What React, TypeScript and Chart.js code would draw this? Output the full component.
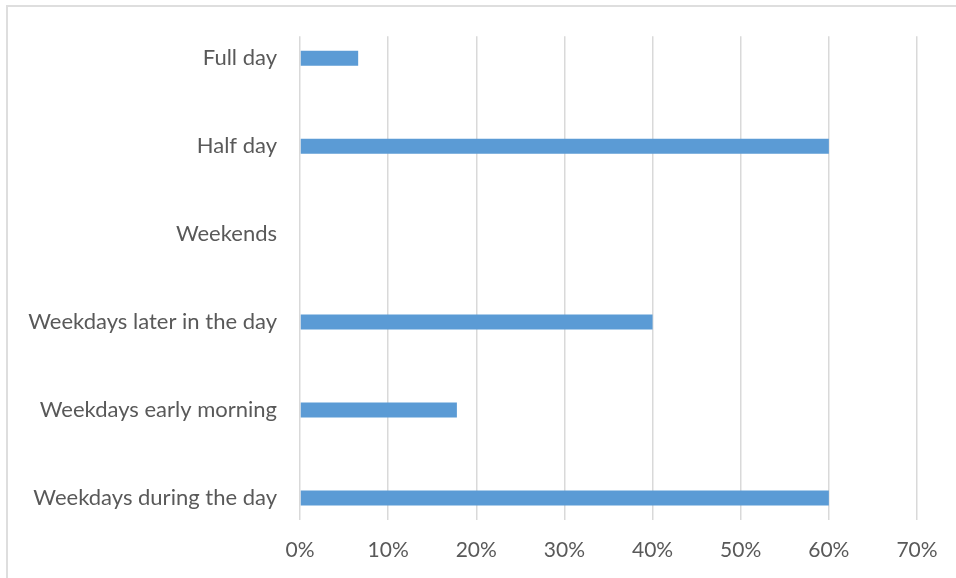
import React, { useEffect, useRef } from "react";
import { Chart, registerables } from "chart.js";

Chart.register(...registerables);

const categories: string[] = [
  "Full day",
  "Half day",
  "Weekends",
  "Weekdays later in the day",
  "Weekdays early morning",
  "Weekdays during the day",
];
const values: number[] = [6.6, 60, 0, 40, 17.8, 60];
const xTicks: number[] = [0, 10, 20, 30, 40, 50, 60, 70];

const FONT = "Lato";
const TEXT = "#595959";
const GRID = "#d9d9d9";

export default function App() {
  const ref = useRef<HTMLCanvasElement | null>(null);

  useEffect(() => {
    if (!ref.current) return;
    const chart = new Chart(ref.current, {
      type: "bar",
      data: {
        datasets: [
          {
            data: values.map((v, i) => ({ x: v, y: i })),
            backgroundColor: "#5b9bd5",
            borderWidth: 0,
            inflateAmount: 0,
            barThickness: 15,
          } as any,
        ],
      },
      options: {
        indexAxis: "y",
        animation: false,
        responsive: false,
        maintainAspectRatio: false,
        layout: { padding: { top: 35, right: 39, bottom: 0, left: 0 } },
        plugins: { legend: { display: false }, tooltip: { enabled: false } },
        scales: {
          x: {
            type: "linear",
            min: 0,
            max: 70,
            afterBuildTicks: (s: any) => {
              s.ticks = xTicks.map((v) => ({ value: v }));
            },
            afterFit: (s: any) => {
              s.height = 58;
            },
            grid: { color: GRID, lineWidth: 1.5, drawTicks: false },
            border: { display: false },
            ticks: {
              padding: 18,
              color: TEXT,
              font: { family: FONT, size: 21 },
              callback: (v: any) => v + "%",
            },
          },
          y: {
            type: "linear",
            reverse: true,
            offset: false,
            min: -0.25,
            max: 5.25,
            afterBuildTicks: (s: any) => {
              s.ticks = categories.map((_, i) => ({ value: i }));
            },
            afterFit: (s: any) => {
              s.width = 300;
            },
            grid: { display: false, drawTicks: false },
            border: { display: false },
            ticks: {
              padding: 23,
              color: TEXT,
              font: { family: FONT, size: 22 },
              callback: (v: any) => categories[v] ?? "",
            },
          },
        },
      },
    });
    return () => chart.destroy();
  }, []);

  return (
    <div
      style={{
        position: "fixed",
        left: 0,
        top: 0,
        width: 956,
        height: 578,
        overflow: "hidden",
        background: "#fff",
      }}
    >
      <div
        style={{
          position: "absolute",
          left: 6,
          top: 5,
          width: 980,
          height: 600,
          border: "2px solid #dedede",
          boxSizing: "border-box",
        }}
      />
      <canvas
        ref={ref}
        width={956}
        height={578}
        style={{ position: "absolute", left: 0, top: 0, width: 956, height: 578 }}
      />
    </div>
  );
}
